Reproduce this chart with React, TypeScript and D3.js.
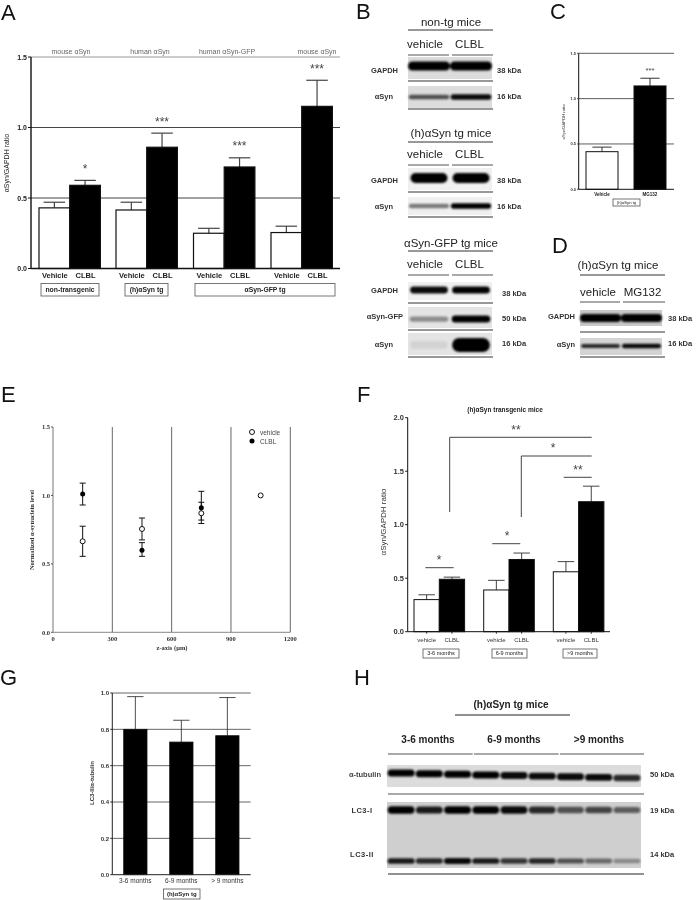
import React from "react";
import * as d3 from "d3";

// ---------- data ----------
const aTop = ["mouse αSyn", "human αSyn", "human αSyn-GFP", "mouse αSyn"];
const aVehicle = [0.43, 0.415, 0.25, 0.255];
const aVehicleTop = [0.47, 0.47, 0.285, 0.3];
const aClbl = [0.59, 0.86, 0.72, 1.15];
const aClblTop = [0.625, 0.96, 0.785, 1.335];
const aStars = ["*", "***", "***", "***"];
const aTicks = [0, 0.5, 1, 1.5];

const cLabels = ["Vehicle", "MG132"];
const cValues = [0.415, 1.14];
const cTops = [0.465, 1.225];

const eX = [150, 450, 750];
const eVehicle = [0.665, 0.755, 0.87];
const eVehicleLow = [0.555, 0.675, 0.795];
const eVehicleHigh = [0.775, 0.835, 0.95];
const eVehicleLastX = 1050;
const eVehicleLast = 1.0;
const eClbl = [1.01, 0.6, 0.91];
const eClblLow = [0.93, 0.555, 0.82];
const eClblHigh = [1.09, 0.655, 1.03];
const eXTicks = [0, 300, 600, 900, 1200];

const fVehicle = [0.3, 0.39, 0.56];
const fVehicleTop = [0.345, 0.48, 0.655];
const fClbl = [0.49, 0.675, 1.215];
const fClblTop = [0.51, 0.735, 1.36];
const fAges = ["3-6 months", "6-9 months", ">9 months"];
const fTicks = [0, 0.5, 1, 1.5, 2];

const gLabels = ["3-6 months", "6-9 months", "> 9 months"];
const gValues = [0.8, 0.73, 0.765];
const gTops = [0.98, 0.85, 0.975];
const gTicks = [0, 0.2, 0.4, 0.6, 0.8, 1];

// band darkness per lane
const bNonGapdh = [1, 1];
const bNonSyn = [0.72, 0.95];
const bHGapdh = [1, 0.98];
const bHSyn = [0.6, 1];
const bGfpGapdh = [0.95, 1];
const bGfpGfp = [0.5, 1];
const bGfpSyn = [0.12, 1];
const dGapdh = [1, 1];
const dSyn = [0.85, 0.95];
const hTub = [1, 1, 1, 1, 0.95, 0.95, 0.95, 0.95, 0.85];
const hLc3I = [1, 0.9, 1, 1, 0.95, 0.85, 0.7, 0.75, 0.65];
const hLc3II = [0.9, 0.85, 0.95, 0.9, 0.8, 0.85, 0.7, 0.6, 0.45];

// ---------- helpers ----------
const SANS = "'Liberation Sans', Arial, sans-serif";
const SERIF = "'Liberation Serif', serif";

function T(p: any) {
  const { x, y, size = 8, anchor = "middle", weight = "normal", fill = "#222", family = SANS, rotate, children, spacing } = p;
  return (
    <text
      x={rotate ? 0 : x}
      y={rotate ? 0 : y}
      transform={rotate ? `translate(${x},${y}) rotate(${rotate})` : undefined}
      fontSize={size}
      textAnchor={anchor}
      fontWeight={weight}
      fill={fill}
      fontFamily={family}
      letterSpacing={spacing}
    >
      {children}
    </text>
  );
}

function Letter({ x, y, c }: any) {
  return <T x={x} y={y} size={22} anchor="start" fill="#111">{c}</T>;
}

function L({ x1, x2, y1, y2, w = 1, c = "#333" }: any) {
  return <line x1={x1} x2={x2} y1={y1} y2={y2} stroke={c} strokeWidth={w} />;
}

function Bar({ x, w, y, y0, fill, top, sw = 1, capw = 0.7, ec = "#222" }: any) {
  const cx = x + w / 2;
  const cap = (w * capw) / 2;
  return (
    <g>
      {top !== undefined && (
        <g>
          <L x1={cx} x2={cx} y1={y} y2={top} w={sw} c={ec} />
          <L x1={cx - cap} x2={cx + cap} y1={top} y2={top} w={sw} c={ec} />
        </g>
      )}
      <rect x={x} y={y} width={w} height={y0 - y} fill={fill} stroke="#111" strokeWidth={sw} />
    </g>
  );
}

function Box({ x1, x2, y1, y2, size, children, weight = "bold" }: any) {
  return (
    <g>
      <rect x={x1} y={y1} width={x2 - x1} height={y2 - y1} fill="#fff" stroke="#555" strokeWidth={0.8} />
      <T x={(x1 + x2) / 2} y={(y1 + y2) / 2 + size * 0.35} size={size} weight={weight}>{children}</T>
    </g>
  );
}

function Bands({ x, w, cy, thick, values, pad = 0.08, drift }: any) {
  const lanes = d3.scaleBand<number>().domain(d3.range(values.length)).range([x, x + w]).paddingInner(pad).paddingOuter(pad / 2);
  return (
    <g filter="url(#band)">
      {values.map((v: number, i: number) => {
        const h = thick * (0.5 + 0.5 * v);
        const d = drift ? (drift * i) / (values.length - 1) : 0;
        return (
          <rect
            key={i}
            x={lanes(i)}
            y={cy + d - h / 2}
            width={lanes.bandwidth()}
            height={h}
            rx={h / 2}
            fill="#000"
            opacity={Math.min(1, Math.pow(v, 1.5) + 0.03)}
          />
        );
      })}
    </g>
  );
}

function Blot({ x, y, w, h, bg = "#d8d8d8", ...rest }: any) {
  return (
    <g>
      <rect x={x} y={y} width={w} height={h} fill={bg} filter="url(#soft)" />
      <Bands x={x} w={w} {...rest} />
    </g>
  );
}

function BlotHead({ title, cx, yTitle, yLine, x1, x2, v2, yLab, yLab2, cv, cc, mid }: any) {
  return (
    <g>
      <T x={cx} y={yTitle} size={11.5} fill="#222">{title}</T>
      <L x1={x1} x2={x2} y1={yLine} y2={yLine} />
      <T x={cv} y={yLab} size={11.5} fill="#222">vehicle</T>
      <T x={cc} y={yLab} size={11.5} fill="#222">{v2}</T>
      <L x1={x1} x2={mid - 1.5} y1={yLab2} y2={yLab2} c="#555" />
      <L x1={mid + 1.5} x2={x2} y1={yLab2} y2={yLab2} c="#555" />
    </g>
  );
}

// ---------- panels ----------
function PanelA() {
  const y = d3.scaleLinear().domain([0, 1.5]).range([268.5, 57]);
  const left = 31, right = 340;
  const starts = [39, 116, 193.5, 271];
  const bw = 30.7;
  const topX = [71, 150, 227, 317];
  return (
    <g>
      <Letter x={1} y={20} c="A" />
      {aTop.map((t, i) => <T key={i} x={topX[i]} y={54} size={7} fill="#666">{t}</T>)}
      {aTicks.slice(1).map((t) => <L key={t} x1={left} x2={right} y1={y(t)} y2={y(t)} c={t === 1.5 ? "#999" : "#444"} />)}
      {starts.map((s, i) => (
        <g key={i}>
          <Bar x={s} w={bw} y={y(aVehicle[i])} y0={y(0)} fill="#fff" top={y(aVehicleTop[i])} sw={1.2} capw={0.7} ec="#444" />
          <Bar x={s + bw} w={bw} y={y(aClbl[i])} y0={y(0)} fill="#000" top={y(aClblTop[i])} sw={1.2} capw={0.7} ec="#444" />
          <T x={s + bw / 2 + 0.5} y={278} size={7.5} weight="bold">Vehicle</T>
          <T x={s + bw * 1.5 + 0.5} y={278} size={7.5} weight="bold">CLBL</T>
          <T x={s + bw * 1.5} y={y(aClblTop[i]) - 7.5} size={12} fill="#444">{aStars[i]}</T>
        </g>
      ))}
      <L x1={left} x2={left} y1={y(1.5)} y2={y(0)} w={1.4} c="#111" />
      <L x1={left} x2={right} y1={y(0)} y2={y(0)} w={1.4} c="#111" />
      {aTicks.map((t) => (
        <g key={t}>
          <L x1={left - 3} x2={left} y1={y(t)} y2={y(t)} c="#111" />
          <T x={27} y={y(t) + 2.5} size={7} weight="bold" anchor="end">{d3.format(".1f")(t)}</T>
        </g>
      ))}
      <T x={9} y={163} size={7} rotate={-90}>αSyn/GAPDH ratio</T>
      <Box x1={41} x2={99} y1={283.5} y2={296} size={6.8}>non-transgenic</Box>
      <Box x1={125} x2={168} y1={283.5} y2={296} size={6.8}>(h)αSyn tg</Box>
      <Box x1={195} x2={335} y1={283.5} y2={296} size={6.8}>αSyn-GFP tg</Box>
    </g>
  );
}

function PanelB() {
  const bx = 408, bw = 84;
  const bg = "#dcdcdc";
  const lab = { size: 7.5, weight: "bold", fill: "#333" };
  return (
    <g>
      <Letter x={356} y={19} c="B" />
      <BlotHead title="non-tg mice" cx={451} yTitle={26} yLine={30} x1={408} x2={493} mid={450.5} cv={425} cc={469.5} v2="CLBL" yLab={48} yLab2={55} />
      <Blot x={bx} y={57} w={bw} h={22} cy={66} thick={9} values={bNonGapdh} bg={bg} pad={0} />
      <L x1={408} x2={493} y1={81} y2={81} />
      <Blot x={bx} y={86} w={bw} h={22} cy={97} thick={5.5} values={bNonSyn} bg={bg} pad={0.03} />
      <L x1={408} x2={493} y1={109} y2={109} />
      <T x={398} y={73} anchor="end" {...lab}>GAPDH</T>
      <T x={393} y={99} anchor="end" {...lab}>αSyn</T>
      <T x={497} y={73} anchor="start" {...lab}>38 kDa</T>
      <T x={497} y={99} anchor="start" {...lab}>16 kDa</T>

      <BlotHead title="(h)αSyn tg mice" cx={451} yTitle={137} yLine={142} x1={408} x2={493} mid={450.5} cv={425} cc={469.5} v2="CLBL" yLab={158} yLab2={165} />
      <Blot x={bx} y={168} w={bw} h={22} cy={178} thick={10} values={bHGapdh} bg="#f0f0f0" pad={0.12} />
      <L x1={408} x2={493} y1={192} y2={192} />
      <Blot x={bx} y={197} w={bw} h={18} cy={206} thick={5.5} values={bHSyn} bg="#f0f0f0" pad={0.04} />
      <L x1={408} x2={493} y1={217} y2={217} />
      <T x={398} y={183} anchor="end" {...lab}>GAPDH</T>
      <T x={393} y={209} anchor="end" {...lab}>αSyn</T>
      <T x={497} y={183} anchor="start" {...lab}>38 kDa</T>
      <T x={497} y={209} anchor="start" {...lab}>16 kDa</T>

      <BlotHead title="αSyn-GFP tg mice" cx={451} yTitle={247} yLine={251} x1={408} x2={493} mid={450.5} cv={425} cc={469.5} v2="CLBL" yLab={268} yLab2={275} />
      <Blot x={bx} y={282} w={bw} h={18} cy={290} thick={7} values={bGfpGapdh} bg="#f0f0f0" pad={0.1} />
      <L x1={408} x2={493} y1={303} y2={303} />
      <Blot x={bx} y={307} w={bw} h={21} cy={319} thick={7} values={bGfpGfp} bg="#e4e4e4" pad={0.08} />
      <L x1={408} x2={493} y1={330} y2={330} />
      <Blot x={bx} y={333} w={bw} h={22} cy={345} thick={14} values={bGfpSyn} bg="#e4e4e4" pad={0.1} />
      <L x1={408} x2={493} y1={357} y2={357} />
      <T x={398} y={293} anchor="end" {...lab}>GAPDH</T>
      <T x={403} y={319} anchor="end" {...lab}>αSyn-GFP</T>
      <T x={393} y={347} anchor="end" {...lab}>αSyn</T>
      <T x={502} y={296} anchor="start" {...lab}>38 kDa</T>
      <T x={502} y={321} anchor="start" {...lab}>50 kDa</T>
      <T x={502} y={346} anchor="start" {...lab}>16 kDa</T>
    </g>
  );
}

function PanelC() {
  const y = d3.scaleLinear().domain([0, 1.5]).range([189.3, 53.3]);
  const left = 578.7, right = 674;
  const xs = [586, 634];
  const w = 32;
  return (
    <g>
      <Letter x={550} y={19} c="C" />
      {aTicks.slice(1).map((t) => <L key={t} x1={left} x2={right} y1={y(t)} y2={y(t)} c="#333" w={0.8} />)}
      {xs.map((x, i) => (
        <g key={i}>
          <Bar x={x} w={w} y={y(cValues[i])} y0={y(0)} fill={i ? "#000" : "#fff"} top={y(cTops[i])} sw={1} capw={0.6} ec="#333" />
          <T x={x + w / 2} y={196} size={4.5} weight="bold">{cLabels[i]}</T>
        </g>
      ))}
      <T x={650} y={73} size={7.7} fill="#444">***</T>
      <L x1={left} x2={left} y1={y(1.5)} y2={y(0)} c="#111" w={1} />
      <L x1={left} x2={right} y1={y(0)} y2={y(0)} c="#111" w={1} />
      {aTicks.map((t) => (
        <g key={t}>
          <L x1={left - 1.5} x2={left} y1={y(t)} y2={y(t)} />
          <T x={576} y={y(t) + 1.5} size={4} anchor="end" weight="bold" fill="#333">{d3.format(".1f")(t)}</T>
        </g>
      ))}
      <T x={565} y={122} size={4.2} rotate={-90} fill="#333">αSyn/GAPDH ratio</T>
      <Box x1={613} x2={640} y1={199} y2={206} size={4.2} weight="normal">(h)αSyn tg</Box>
    </g>
  );
}

function PanelD() {
  const lab = { size: 7.5, weight: "bold", fill: "#333" };
  return (
    <g>
      <Letter x={552} y={253} c="D" />
      <BlotHead title="(h)αSyn tg mice" cx={618} yTitle={269} yLine={275} x1={580} x2={665} mid={621.5} cv={598} cc={642.5} v2="MG132" yLab={296} yLab2={302} />
      <Blot x={580} y={310} w={82} h={16} cy={318} thick={8} values={dGapdh} bg="#c8c8c8" pad={0} />
      <L x1={580} x2={665} y1={332} y2={332} />
      <Blot x={580} y={338} w={82} h={17} cy={346} thick={4.5} values={dSyn} bg="#d4d4d4" pad={0.05} />
      <L x1={580} x2={665} y1={357} y2={357} />
      <T x={575} y={319} anchor="end" {...lab}>GAPDH</T>
      <T x={575} y={347} anchor="end" {...lab}>αSyn</T>
      <T x={668} y={321} anchor="start" {...lab}>38 kDa</T>
      <T x={668} y={346} anchor="start" {...lab}>16 kDa</T>
    </g>
  );
}

function PanelE() {
  const x = d3.scaleLinear().domain([0, 1200]).range([53, 290.3]);
  const y = d3.scaleLinear().domain([0, 1.5]).range([632.3, 427]);
  const fmt = d3.format(".1f");
  const Err = ({ px, lo, hi }: any) => (
    <g>
      <L x1={x(px)} x2={x(px)} y1={y(lo)} y2={y(hi)} w={1} c="#111" />
      <L x1={x(px) - 3} x2={x(px) + 3} y1={y(lo)} y2={y(lo)} w={1} c="#111" />
      <L x1={x(px) - 3} x2={x(px) + 3} y1={y(hi)} y2={y(hi)} w={1} c="#111" />
    </g>
  );
  return (
    <g>
      <Letter x={1} y={402} c="E" />
      {eXTicks.slice(1).map((t) => <L key={t} x1={x(t)} x2={x(t)} y1={y(1.5)} y2={y(0)} c="#555" w={0.9} />)}
      <L x1={x(0)} x2={x(0)} y1={y(1.5)} y2={y(0)} c="#777" w={1} />
      <L x1={x(0)} x2={x(1200)} y1={y(0)} y2={y(0)} c="#888" w={1} />
      {eXTicks.map((t) => <T key={t} x={x(t)} y={641} size={6.5} weight="bold" family={SERIF} fill="#333">{t}</T>)}
      {aTicks.map((t) => (
        <g key={t}>
          <L x1={x(0) - 2} x2={x(0)} y1={y(t)} y2={y(t)} c="#555" />
          <T x={50} y={y(t) + 2.2} size={6.5} anchor="end" weight="bold" family={SERIF} fill="#333">{fmt(t)}</T>
        </g>
      ))}
      <T x={34} y={530} size={6.5} weight="bold" family={SERIF} rotate={-90} fill="#333">Normalized α-synuclein level</T>
      <T x={172} y={650} size={6.5} weight="bold" family={SERIF} fill="#333">z-axis (μm)</T>
      {eX.map((v, i) => (
        <g key={v}>
          <Err px={v} lo={eVehicleLow[i]} hi={eVehicleHigh[i]} />
          <Err px={v} lo={eClblLow[i]} hi={eClblHigh[i]} />
          <circle cx={x(v)} cy={y(eClbl[i])} r={2.5} fill="#000" />
          <circle cx={x(v)} cy={y(eVehicle[i])} r={2.5} fill="#fff" stroke="#111" strokeWidth={1} />
        </g>
      ))}
      <circle cx={x(eVehicleLastX)} cy={y(eVehicleLast)} r={2.5} fill="#fff" stroke="#111" strokeWidth={1} />
      <circle cx={252} cy={432} r={2.5} fill="#fff" stroke="#111" strokeWidth={1} />
      <circle cx={252} cy={441} r={2.5} fill="#000" />
      <T x={260} y={434.5} size={6.5} anchor="start" fill="#444">vehicle</T>
      <T x={260} y={443.5} size={6.5} anchor="start" fill="#444">CLBL</T>
    </g>
  );
}

function PanelF() {
  const y = d3.scaleLinear().domain([0, 2]).range([631.7, 417.7]);
  const left = 407.7, right = 610;
  const starts = [414, 483.7, 553.3];
  const bw = 25.3;
  const boxes: [number, number][] = [[423, 459], [492, 527], [563, 597]];
  const fmt = d3.format(".1f");
  return (
    <g>
      <Letter x={357} y={402} c="F" />
      <T x={505} y={412} size={6.5} weight="bold">(h)αSyn transgenic mice</T>
      {starts.map((s, i) => (
        <g key={i}>
          <Bar x={s} w={bw} y={y(fVehicle[i])} y0={y(0)} fill="#fff" top={y(fVehicleTop[i])} sw={1} capw={0.65} ec="#444" />
          <Bar x={s + bw} w={bw} y={y(fClbl[i])} y0={y(0)} fill="#000" top={y(fClblTop[i])} sw={1} capw={0.65} ec="#444" />
          <L x1={s + bw / 2} x2={s + bw / 2} y1={y(0)} y2={y(0) + 2} />
          <L x1={s + bw * 1.5} x2={s + bw * 1.5} y1={y(0)} y2={y(0) + 2} />
          <T x={s + bw / 2} y={642} size={6} fill="#333">vehicle</T>
          <T x={s + bw * 1.5} y={642} size={6} fill="#333">CLBL</T>
          <Box x1={boxes[i][0]} x2={boxes[i][1]} y1={649} y2={658} size={5.5} weight="normal">{fAges[i]}</Box>
        </g>
      ))}
      <L x1={left} x2={left} y1={y(2)} y2={y(0)} c="#111" w={1} />
      <L x1={left} x2={right} y1={y(0)} y2={y(0)} c="#111" w={1} />
      {fTicks.map((t) => (
        <g key={t}>
          <L x1={left - 2.5} x2={left} y1={y(t)} y2={y(t)} c="#111" />
          <T x={404} y={y(t) + 2.6} size={7.5} anchor="end" weight="bold" fill="#333">{fmt(t)}</T>
        </g>
      ))}
      <T x={386} y={522} size={8} rotate={-90} fill="#333">αSyn/GAPDH ratio</T>
      <path d="M449.7,512 V437.3 H591.7" fill="none" stroke="#444" />
      <path d="M521.3,517 V456 H591.7" fill="none" stroke="#444" />
      <L x1={563.7} x2={591.7} y1={477.3} y2={477.3} c="#444" />
      <L x1={492.3} x2={520.3} y1={543.7} y2={543.7} c="#444" />
      <L x1={425.3} x2={453.7} y1={567.7} y2={567.7} c="#444" />
      <T x={516} y={434} size={12} fill="#444">**</T>
      <T x={553} y={452} size={12} fill="#444">*</T>
      <T x={578} y={474} size={12} fill="#444">**</T>
      <T x={507} y={540} size={12} fill="#444">*</T>
      <T x={439} y={564} size={12} fill="#444">*</T>
    </g>
  );
}

function PanelG() {
  const y = d3.scaleLinear().domain([0, 1]).range([874.7, 693]);
  const left = 112.3, right = 250.7;
  const starts = [123.7, 169.7, 215.7];
  const bw = 23.3;
  const fmt = d3.format(".1f");
  return (
    <g>
      <Letter x={0} y={685} c="G" />
      {gTicks.slice(1).map((t) => <L key={t} x1={left} x2={right} y1={y(t)} y2={y(t)} c="#666" />)}
      {starts.map((s, i) => (
        <g key={i}>
          <Bar x={s} w={bw} y={y(gValues[i])} y0={y(0)} fill="#000" top={y(gTops[i])} sw={0.8} capw={0.7} ec="#222" />
          <T x={s + bw / 2} y={882.5} size={6.5} fill="#333">{gLabels[i]}</T>
        </g>
      ))}
      <L x1={left} x2={left} y1={y(1)} y2={y(0)} c="#222" w={1} />
      <L x1={left} x2={right} y1={y(0)} y2={y(0)} c="#222" w={1} />
      {gTicks.map((t) => (
        <g key={t}>
          <L x1={left - 2} x2={left} y1={y(t)} y2={y(t)} c="#222" />
          <T x={109} y={y(t) + 2.2} size={6} anchor="end" weight="bold" fill="#333">{fmt(t)}</T>
        </g>
      ))}
      <T x={94} y={783} size={6} weight="bold" rotate={-90} fill="#333">LC3-II/α-tubulin</T>
      <Box x1={163.5} x2={200} y1={889} y2={899} size={6}>(h)αSyn tg</Box>
    </g>
  );
}

function PanelH() {
  const lines: [number, number][] = [[388, 472.7], [474, 558.7], [560, 644]];
  const centers = [428, 514, 599];
  const bx = 387, bw = 254;
  const lab = { size: 7.5, weight: "bold", fill: "#333" };
  return (
    <g>
      <Letter x={354} y={685} c="H" />
      <T x={511} y={708} size={10} weight="bold" fill="#222">(h)αSyn tg mice</T>
      <L x1={455} x2={570} y1={715} y2={715} c="#222" />
      {fAges.map((a, i) => (
        <g key={a}>
          <T x={centers[i]} y={743} size={10} weight="bold" fill="#222">{a}</T>
          <L x1={lines[i][0]} x2={lines[i][1]} y1={754} y2={754} c="#555" />
        </g>
      ))}
      <Blot x={bx} y={765} w={bw} h={22} cy={773} drift={5} thick={7} values={hTub} bg="#dcdcdc" pad={0.04} />
      <L x1={388} x2={644} y1={794} y2={794} c="#555" />
      <Blot x={bx} y={802} w={bw} h={66} cy={810} thick={7.5} values={hLc3I} bg="#cfcfcf" pad={0.05} />
      <Bands x={bx} w={bw} cy={861} thick={6} values={hLc3II} pad={0.04} />
      <L x1={388} x2={644} y1={874} y2={874} c="#222" />
      <T x={381} y={777} anchor="end" {...lab} fill="#444">α-tubulin</T>
      <T x={362} y={813} {...lab} spacing={0.5}>LC3-I</T>
      <T x={362} y={857} {...lab} spacing={0.5}>LC3-II</T>
      <T x={650} y={777} anchor="start" {...lab}>50 kDa</T>
      <T x={650} y={813} anchor="start" {...lab}>19 kDa</T>
      <T x={650} y={857} anchor="start" {...lab}>14 kDa</T>
    </g>
  );
}

export default function App() {
  return (
    <svg width={697} height={900} viewBox="0 0 697 900" style={{ position: "absolute", left: 0, top: 0, background: "#fff" }}>
      <defs>
        <filter id="soft" x="-5%" y="-15%" width="110%" height="130%" colorInterpolationFilters="sRGB"><feGaussianBlur stdDeviation="0.7" /></filter>
        <filter id="band" x="-5%" y="-60%" width="110%" height="220%" colorInterpolationFilters="sRGB"><feGaussianBlur stdDeviation="0.9" /></filter>
        <filter id="page" filterUnits="userSpaceOnUse" x="0" y="0" width="697" height="900" colorInterpolationFilters="sRGB"><feGaussianBlur stdDeviation="0.35" /></filter>
      </defs>
      <g filter="url(#page)">
        <rect x={0} y={0} width={697} height={900} fill="#fff" />
        <PanelA />
        <PanelB />
        <PanelC />
        <PanelD />
        <PanelE />
        <PanelF />
        <PanelG />
        <PanelH />
      </g>
    </svg>
  );
}
